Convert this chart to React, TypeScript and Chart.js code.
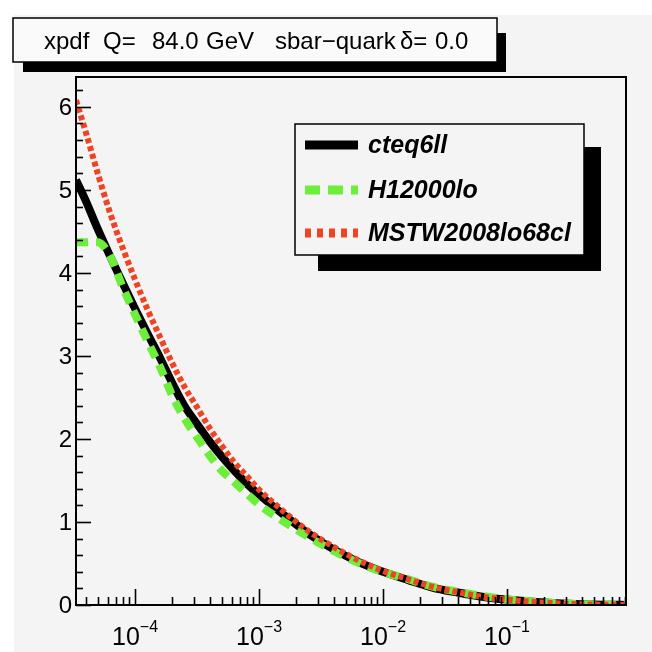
import React, { useEffect, useRef } from "react";
import { Chart, registerables } from "chart.js";

Chart.register(...registerables);

// x values (Bjorken x)
const xValues = [
  3.34e-5, 4e-5, 5e-5, 6.3e-5, 8e-5, 1e-4, 1.26e-4, 1.6e-4, 2e-4, 2.5e-4,
  3.2e-4, 4e-4, 5e-4, 6.3e-4, 8e-4, 1e-3, 1.6e-3, 2.5e-3, 4e-3, 6.3e-3,
  0.01, 0.016, 0.025, 0.04, 0.063, 0.1, 0.16, 0.25, 0.4, 0.63, 0.91,
];
// x * sbar(x) for each PDF set
const cteq6ll = [
  5.12, 4.87, 4.53, 4.2, 3.87, 3.57, 3.27, 2.97, 2.67, 2.4,
  2.17, 1.97, 1.79, 1.62, 1.46, 1.33, 1.08, 0.86, 0.67, 0.52,
  0.4, 0.3, 0.21, 0.15, 0.1, 0.065, 0.04, 0.022, 0.01, 0.004, 0.001,
];
const h12000lo = [
  4.37, 4.37, 4.37, 4.2, 3.82, 3.5, 3.18, 2.86, 2.52, 2.25,
  2.01, 1.8, 1.62, 1.48, 1.34, 1.21, 1.0, 0.82, 0.65, 0.51,
  0.4, 0.31, 0.22, 0.16, 0.11, 0.07, 0.042, 0.022, 0.01, 0.004, 0.001,
];
const mstw2008lo = [
  6.08, 5.7, 5.2, 4.72, 4.29, 3.92, 3.56, 3.22, 2.91, 2.63,
  2.37, 2.13, 1.92, 1.72, 1.55, 1.39, 1.12, 0.89, 0.7, 0.54,
  0.41, 0.31, 0.22, 0.155, 0.1, 0.065, 0.038, 0.02, 0.008, 0.003, 0.0005,
];

const seriesNames = ["cteq6ll", "H12000lo", "MSTW2008lo68cl"];
const seriesColors = ["#000000", "#6cee3a", "#ef4323"];

const xMin = 3.34e-5;
const xMax = 0.912;
const yMin = 0;
const yMax = 6.36;

const yMajorTicks = [0, 1, 2, 3, 4, 5, 6];
const yTickLabels = ["0", "1", "2", "3", "4", "5", "6"];
const yMinorStep = 0.2;
const xLabelDecades = [-4, -3, -2, -1];
const xLabelExponents = ["\u22124", "\u22123", "\u22122", "\u22121"];

const titleParts: [string, number][] = [
  ["xpdf", 44],
  ["Q=", 103],
  ["84.0", 152],
  ["GeV", 206],
  ["sbar\u2212quark", 275],
  ["\u03b4=", 400],
  ["0.0", 435],
];

const FONT = '"Liberation Sans", Arial, Helvetica, sans-serif';

const rootStyle = {
  id: "rootStyle",
  beforeDraw(chart: any) {
    const ctx = chart.ctx;
    ctx.save();
    ctx.fillStyle = "#ffffff";
    ctx.fillRect(0, 0, chart.width, chart.height);
    ctx.fillStyle = "#f4f4f4";
    ctx.fillRect(14, 15, chart.width - 14, chart.height - 15);
    ctx.restore();
  },
  afterDraw(chart: any) {
    const ctx = chart.ctx;
    const a = chart.chartArea;
    const xs = chart.scales.x;
    const ys = chart.scales.y;
    ctx.save();

    // frame
    ctx.strokeStyle = "#000";
    ctx.lineWidth = 2;
    ctx.strokeRect(a.left, a.top, a.right - a.left, a.bottom - a.top);

    // y ticks
    ctx.lineWidth = 1.6;
    const nMinor = Math.floor((yMax - yMin) / yMinorStep + 1e-6);
    for (let i = 0; i <= nMinor; i++) {
      const v = yMin + i * yMinorStep;
      const py = Math.round(ys.getPixelForValue(v)) + 0.5;
      const major = Math.abs(v - Math.round(v)) < 1e-6;
      const len = major ? 15 : 7;
      ctx.beginPath();
      ctx.moveTo(a.left, py);
      ctx.lineTo(a.left + len, py);
      ctx.stroke();
    }
    ctx.fillStyle = "#000";
    ctx.font = `24px ${FONT}`;
    ctx.textAlign = "right";
    ctx.textBaseline = "middle";
    yMajorTicks.forEach((v, i) => {
      ctx.fillText(yTickLabels[i], a.left - 4, ys.getPixelForValue(v) + 1);
    });

    // x ticks (log)
    for (let d = -6; d <= 0; d++) {
      for (let m = 1; m <= 9; m++) {
        const v = m * Math.pow(10, d);
        if (v < xMin || v > xMax) continue;
        const px = Math.round(xs.getPixelForValue(v)) + 0.5;
        const len = m === 1 ? 16 : 8;
        ctx.beginPath();
        ctx.moveTo(px, a.bottom);
        ctx.lineTo(px, a.bottom - len);
        ctx.stroke();
      }
    }
    // x labels 10^n
    ctx.textAlign = "left";
    ctx.textBaseline = "alphabetic";
    xLabelDecades.forEach((d, i) => {
      const px = xs.getPixelForValue(Math.pow(10, d));
      ctx.font = `25px ${FONT}`;
      const w1 = ctx.measureText("10").width;
      ctx.font = `16px ${FONT}`;
      const w2 = ctx.measureText(xLabelExponents[i]).width;
      const start = px - (w1 + w2) / 2;
      ctx.font = `25px ${FONT}`;
      ctx.fillText("10", start, 645);
      ctx.font = `16px ${FONT}`;
      ctx.fillText(xLabelExponents[i], start + w1, 632);
    });

    // title box with shadow
    ctx.fillStyle = "#000";
    ctx.fillRect(497, 33, 9, 39);
    ctx.fillRect(23, 62, 483, 10);
    ctx.fillStyle = "#fafafa";
    ctx.fillRect(13, 18, 484, 44);
    ctx.lineWidth = 1.5;
    ctx.strokeStyle = "#000";
    ctx.strokeRect(13, 18, 484, 44);
    ctx.fillStyle = "#000";
    ctx.font = `24px ${FONT}`;
    ctx.textBaseline = "alphabetic";
    titleParts.forEach(([t, x]) => ctx.fillText(t, x, 49));

    // legend box with shadow
    ctx.fillStyle = "#000";
    ctx.fillRect(584, 147, 17, 124);
    ctx.fillRect(318, 255, 283, 16);
    ctx.fillStyle = "#f4f4f4";
    ctx.fillRect(295, 124, 289, 131);
    ctx.strokeRect(295, 124, 289, 131);

    const rows = [145, 190, 233];
    const dashes = [[], [15, 8], [6, 6]];
    rows.forEach((ry, i) => {
      ctx.save();
      ctx.strokeStyle = seriesColors[i];
      ctx.lineWidth = 9;
      ctx.setLineDash(dashes[i]);
      ctx.beginPath();
      ctx.moveTo(305, ry);
      ctx.lineTo(358, ry);
      ctx.stroke();
      ctx.restore();
      ctx.fillStyle = "#000";
      ctx.font = `italic bold 25px ${FONT}`;
      ctx.textBaseline = "middle";
      ctx.fillText(seriesNames[i], 368, ry + 1);
    });

    ctx.restore();
  },
};

export default function App() {
  const ref = useRef<HTMLCanvasElement | null>(null);
  useEffect(() => {
    document.body.style.margin = "0";
    const canvas = ref.current;
    if (!canvas) return;
    const mk = (ys: number[]) => xValues.map((x, i) => ({ x, y: ys[i] }));
    const chart = new Chart(canvas, {
      type: "line",
      data: {
        datasets: [
          {
            label: seriesNames[2],
            data: mk(mstw2008lo),
            borderColor: seriesColors[2],
            borderWidth: 6,
            borderDash: [5, 3],
            pointRadius: 0,
            cubicInterpolationMode: "monotone",
            fill: false,
            order: 0,
          },
          {
            label: seriesNames[1],
            data: mk(h12000lo),
            borderColor: seriesColors[1],
            borderWidth: 8,
            borderDash: [12, 8],
            pointRadius: 0,
            cubicInterpolationMode: "monotone",
            fill: false,
            order: 1,
          },
          {
            label: seriesNames[0],
            data: mk(cteq6ll),
            borderColor: seriesColors[0],
            borderWidth: 8,
            pointRadius: 0,
            cubicInterpolationMode: "monotone",
            fill: false,
            order: 2,
          },
        ],
      },
      options: {
        responsive: false,
        animation: false,
        devicePixelRatio: 1,
        layout: { padding: { left: 76, top: 77, right: 26, bottom: 47 } },
        plugins: { legend: { display: false }, tooltip: { enabled: false } },
        scales: {
          x: { type: "logarithmic", min: xMin, max: xMax, display: false },
          y: { type: "linear", min: yMin, max: yMax, display: false },
        },
      },
      plugins: [rootStyle],
    } as any);
    return () => chart.destroy();
  }, []);
  return (
    <div style={{ width: 652, height: 652 }}>
      <canvas ref={ref} width={652} height={652} />
    </div>
  );
}
